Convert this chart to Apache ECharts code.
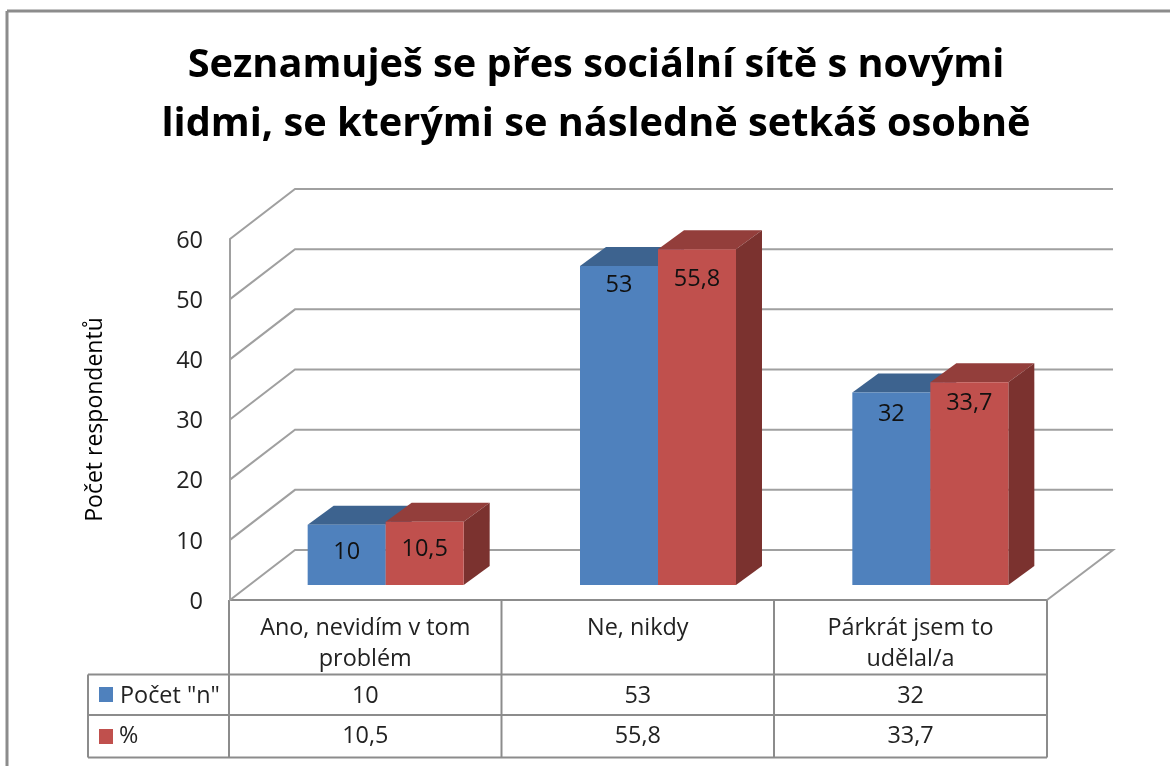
<!DOCTYPE html>
<html><head><meta charset="utf-8">
<style>html,body{margin:0;padding:0;background:#fff}#c{width:1170px;height:766px}</style>
<script src="https://cdn.jsdelivr.net/npm/echarts@6/dist/echarts.min.js"></script>
</head><body><div id="c"></div>
<script>
const categories = ['Ano, nevidím v tom\nproblém', 'Ne, nikdy', 'Párkrát jsem to\nudělal/a'];
const seriesNames = ['Počet "n"', '%'];
const countValues = [10, 53, 32];
const percentValues = [10.5, 55.8, 33.7];
const percentLabels = ['10,5', '55,8', '33,7'];
const countLabels = ['10', '53', '32'];
const yTicks = [0, 10, 20, 30, 40, 50, 60];
const titleText = 'Seznamuješ se přes sociální sítě s novými\nlidmi, se kterými se následně setkáš osobně';
const yName = 'Počet respondentů';

const FONT = '"Open Sans","Noto Sans",sans-serif';
const GRID = {left: 230, top: 239, width: 817, height: 361};
const DEPTH = {x: 65, y: -50};
const BAR_DEPTH = {x: 26, y: -19};
const BAR_OFFSET = {x: 19.5, y: -15};
const BAR_W = 78;
const colors = {
  blue: {front: '#4f81bd', top: '#3d638f', side: '#34567f'},
  red: {front: '#c0504d', top: '#933e3b', side: '#7b322f'}
};
const LINE = '#a0a0a0', TABLE = '#8c8c8c';
// distance of each bar's value label below the top of its front face
const countLabelDrop = [26, 18, 21];
const percentLabelDrop = [26, 29, 20];

function wallItem(params, api) {
  const v = api.value(0);
  const p = api.coord(['Ne, nikdy', v]);
  const y = p[1], x0 = GRID.left, x1 = GRID.left + GRID.width;
  const pts = [[x0, y], [x0 + DEPTH.x, y + DEPTH.y], [x1 + DEPTH.x + 1, y + DEPTH.y]];
  if (v === 0) pts.push([x1, y]);
  return {type: 'group', children: [
    {type: 'polyline', silent: true, shape: {points: pts},
     style: {stroke: LINE, lineWidth: 2, fill: 'none'}},
    {type: 'text', silent: true, style: {text: String(v), x: x0 - 27, y: y + 2, align: 'right', verticalAlign: 'middle',
     fill: '#222', font: '23.5px ' + FONT}}
  ]};
}
function barItem(color, seriesIdx, labels, drops) {
  return function (params, api) {
    const c = api.coord([api.value(0), 0]);
    const t = api.coord([api.value(0), api.value(1)]);
    const xL = c[0] + BAR_OFFSET.x + (seriesIdx === 0 ? -BAR_W : 0);
    const xR = xL + BAR_W;
    const yB = c[1] + BAR_OFFSET.y, yT = t[1] + BAR_OFFSET.y;
    const dx = BAR_DEPTH.x, dy = BAR_DEPTH.y;
    return {type: 'group', children: [
      {type: 'polygon', shape: {points: [[xL, yT], [xL + dx, yT + dy], [xR + dx, yT + dy], [xR, yT]]}, style: {fill: color.top}},
      {type: 'polygon', shape: {points: [[xR, yT], [xR + dx, yT + dy], [xR + dx, yB + dy], [xR, yB]]}, style: {fill: color.side}},
      {type: 'rect', shape: {x: xL, y: yT, width: BAR_W, height: yB - yT}, style: {fill: color.front}},
      {type: 'text', style: {text: labels[params.dataIndex], x: (xL + xR) / 2, y: yT + drops[params.dataIndex] + 1, align: 'center', verticalAlign: 'middle',
        fill: '#111', font: '23.5px ' + FONT}}
    ]};
  };
}

const colX = [88, 229, 501.5, 774, 1047];
const rowY = [600, 674.5, 715, 757.5];
const TXT = '23.4px ' + FONT;
const g = [];
function ln(x1, y1, x2, y2, col, w) {
  g.push({type: 'line', silent: true, shape: {x1, y1, x2, y2}, style: {stroke: col || TABLE, lineWidth: w || 2}});
}
function tx(text, x, y, align) {
  g.push({type: 'text', silent: true, style: {text, x, y, align: align || 'center', verticalAlign: 'middle',
    fill: '#222', font: TXT}});
}
// outer frame
ln(7, 11, 1170, 11, '#8c8c8c', 3);
ln(7, 11, 7, 766, '#8c8c8c', 3);
// table
ln(229, 600, 1047, 600);
[1, 2, 3].forEach(i => ln(colX[0], rowY[i], colX[4], rowY[i]));
ln(colX[0], rowY[1], colX[0], rowY[3]);
[1, 2, 3, 4].forEach(i => ln(colX[i], rowY[0], colX[i], rowY[3]));
[0, 1, 2].forEach(i => {
  const cx = (colX[i + 1] + colX[i + 2]) / 2;
  categories[i].split('\n').forEach((line, k) => tx(line, cx, 628 + k * 31));
  tx(countLabels[i], cx, 696);
  tx(percentLabels[i], cx, 736);
});
g.push({type: 'rect', silent: true, shape: {x: 99, y: 687, width: 14, height: 15}, style: {fill: colors.blue.front}});
g.push({type: 'rect', silent: true, shape: {x: 99, y: 729, width: 14, height: 15}, style: {fill: colors.red.front}});
tx(seriesNames[0], 120, 696, 'left');
tx(seriesNames[1], 119, 736, 'left');

const chart = echarts.init(document.getElementById('c'), null, {renderer: 'canvas'});
chart.setOption({
  animation: false,
  backgroundColor: '#fff',
  title: {text: titleText, left: 591, top: 31, textAlign: 'center',
    textStyle: {fontFamily: FONT, fontSize: 39.7, fontWeight: 'bold', color: '#000', lineHeight: 59}},
  grid: GRID,
  xAxis: {type: 'category', data: categories, show: false},
  yAxis: {type: 'value', min: 0, max: 60, interval: 10,
    name: yName, nameLocation: 'middle', nameGap: 123, nameRotate: 90,
    nameTextStyle: {fontFamily: FONT, fontSize: 23, fontWeight: 'normal', color: '#000'},
    axisLine: {show: true, lineStyle: {color: LINE, width: 2}}, axisTick: {show: false}, splitLine: {show: false},
    axisLabel: {show: false}},
  series: [
    {type: 'custom', coordinateSystem: 'cartesian2d', renderItem: wallItem, z: 1, silent: true,
     data: yTicks.map(v => [v]), encode: {y: 0}},
    {type: 'custom', name: seriesNames[0], renderItem: barItem(colors.blue, 0, countLabels, countLabelDrop), z: 3,
     data: categories.map((c, i) => [i, countValues[i]]), encode: {x: 0, y: 1}},
    {type: 'custom', name: seriesNames[1], renderItem: barItem(colors.red, 1, percentLabels, percentLabelDrop), z: 4,
     data: categories.map((c, i) => [i, percentValues[i]]), encode: {x: 0, y: 1}}
  ],
  graphic: {elements: g}
});
</script></body></html>
